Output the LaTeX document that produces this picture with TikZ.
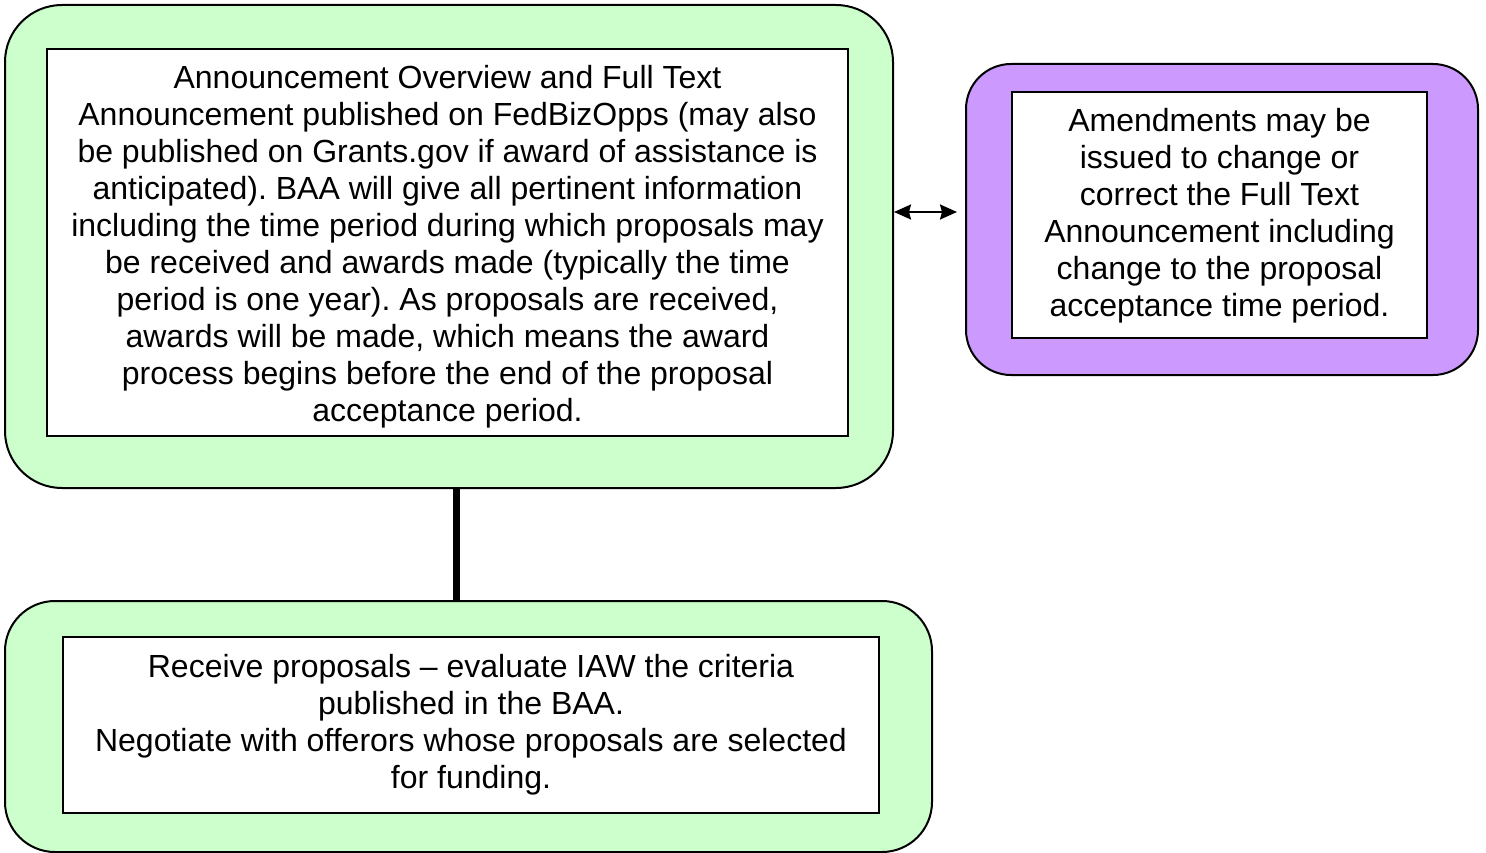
\documentclass[tikz,border=0pt]{standalone}
\usepackage{fontspec}
\setmainfont{Liberation Sans}
\usetikzlibrary{arrows.meta}
\definecolor{lgreen}{HTML}{CCFFCC}
\definecolor{lpurple}{HTML}{CC99FF}
\tikzset{
  outerbox/.style={draw=black, line width=2pt, rounded corners=#1, inner sep=0pt, anchor=center},
  innerbox/.style={draw=black, line width=2pt, fill=white, inner sep=0pt, anchor=center},
  boxtext/.style={inner sep=0pt, anchor=center, align=center,
    font=\fontsize{32pt}{37pt}\selectfont\frenchspacing},
}
\begin{document}
\begin{tikzpicture}[x=1pt,y=-1pt]
\useasboundingbox (0,0) rectangle (1486,853);
\fill[white] (0,0) rectangle (1486,853);
% top group
\node[outerbox=57pt, fill=lgreen, minimum width=888pt, minimum height=483pt] (topouter) at (449,246.5) {};
\node[innerbox, minimum width=801pt, minimum height=387pt] (topinner) at (447.5,242.5) {};
\node[boxtext] (toptext) at ([yshift=-4pt]topinner.center) {Announcement Overview and Full Text\\
Announcement published on FedBizOpps (may also\\
be published on Grants.gov if award of assistance is\\
anticipated). BAA will give all pertinent information\\
including the time period during which proposals may\\
be received and awards made (typically the time\\
period is one year). As proposals are received,\\
awards will be made, which means the award\\
process begins before the end of the proposal\\
acceptance period.};
% purple group
\node[outerbox=45pt, fill=lpurple, minimum width=512pt, minimum height=311pt] (purpouter) at (1222,219.5) {};
\node[innerbox, minimum width=415pt, minimum height=246pt] (purpinner) at (1219.5,215) {};
\node[boxtext] (purptext) at ([yshift=-1pt]purpinner.center) {Amendments may be\\
issued to change or\\
correct the Full Text\\
Announcement including\\
change to the proposal\\
acceptance time period.};
% bottom group
\node[outerbox=50pt, fill=lgreen, minimum width=927pt, minimum height=251pt] (botouter) at (468.5,726.5) {};
\node[innerbox, minimum width=816pt, minimum height=176pt] (botinner) at (471,725) {};
\node[boxtext] (bottext) at (botinner.center) {Receive proposals -- evaluate IAW the criteria\\
published in the BAA.\\
Negotiate with offerors whose proposals are selected\\
for funding.};
% connectors
\coordinate (arrR) at (957,212);
\draw[line width=2pt, {Stealth[length=17pt,width=15pt,inset=2pt]}-{Stealth[length=17pt,width=15pt,inset=2pt]}] (topouter.east |- arrR) -- (arrR);
\coordinate (vx) at (456,0);
\draw[line width=7pt] (vx |- topouter.south) -- (vx |- botouter.north);
\end{tikzpicture}
\end{document}
